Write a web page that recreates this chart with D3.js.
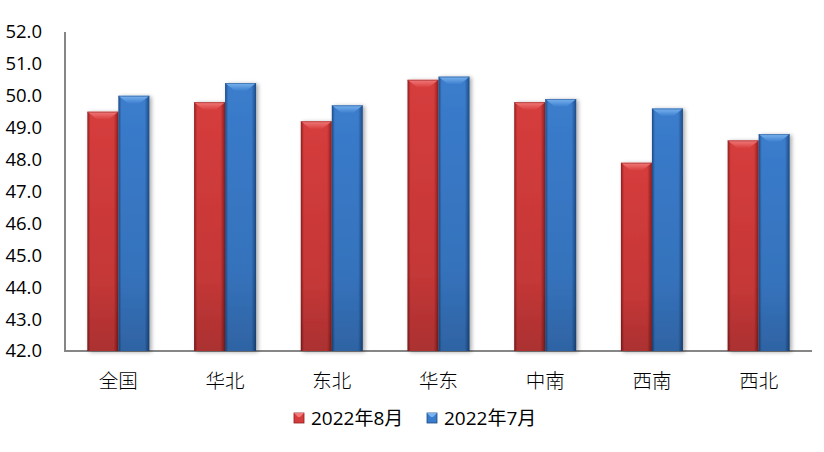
<!DOCTYPE html>
<html><head><meta charset="utf-8">
<script src="https://cdn.jsdelivr.net/npm/d3@7/dist/d3.min.js"></script>
<style>body{margin:0;background:#fff}svg{display:block}</style>
</head><body>
<script>
const categories = ["全国","华北","东北","华东","中南","西南","西北"];
const seriesNames = ["2022年8月","2022年7月"];
const aug = [49.5,49.8,49.2,50.5,49.8,47.9,48.6];
const jul = [50.0,50.4,49.7,50.6,49.9,49.6,48.8];
const yTicks = [42,43,44,45,46,47,48,49,50,51,52];

(function(){
const W=824,H=452;
const svg=d3.select("body").append("svg").attr("width",W).attr("height",H);
const pLeft=65,pRight=812,pTop=32,pBottom=351;
const x=d3.scaleBand().domain(categories).range([pLeft,pRight]);
const y=d3.scaleLinear().domain([42,52]).range([pBottom,pTop]);
const barW=31;

const defs=svg.append("defs");
const pal=[{main:"#d63c3c",light:"#f27a7a",dark:"#8e1e1e",id:"r"},{main:"#3a7ccc",light:"#7ab4f0",dark:"#1c4a85",id:"b"}];
pal.forEach(p=>{
  const gh=defs.append("linearGradient").attr("id","h"+p.id).attr("x1",0).attr("x2",1).attr("y1",0).attr("y2",0);
  gh.append("stop").attr("offset","0%").attr("stop-color",p.dark);
  gh.append("stop").attr("offset","10%").attr("stop-color",p.main);
  gh.append("stop").attr("offset","85%").attr("stop-color",p.main);
  gh.append("stop").attr("offset","100%").attr("stop-color",p.dark);
  const gv=defs.append("linearGradient").attr("id","v"+p.id).attr("x1",0).attr("x2",0).attr("y1",0).attr("y2",1);
  gv.append("stop").attr("offset","0%").attr("stop-color","#000").attr("stop-opacity",0);
  gv.append("stop").attr("offset","70%").attr("stop-color","#000").attr("stop-opacity",0.08);
  gv.append("stop").attr("offset","100%").attr("stop-color","#000").attr("stop-opacity",0.2);
  const gt=defs.append("linearGradient").attr("id","t"+p.id).attr("x1",0).attr("x2",0).attr("y1",0).attr("y2",1);
  gt.append("stop").attr("offset","0%").attr("stop-color",p.light);
  gt.append("stop").attr("offset","100%").attr("stop-color",p.main);
});
const sh=defs.append("filter").attr("id","shadow").attr("x","-20%").attr("y","-5%").attr("width","150%").attr("height","115%");
sh.append("feGaussianBlur").attr("in","SourceAlpha").attr("stdDeviation",2);
sh.append("feOffset").attr("dx",2).attr("dy",1).attr("result","ob");
sh.append("feComponentTransfer").append("feFuncA").attr("type","linear").attr("slope",0.35);
const mg=sh.append("feMerge");mg.append("feMergeNode");mg.append("feMergeNode").attr("in","SourceGraphic");

svg.append("line").attr("x1",pLeft).attr("x2",pLeft).attr("y1",pTop).attr("y2",pBottom).attr("stroke","#868686").attr("stroke-width",2);
svg.append("line").attr("x1",pLeft-1).attr("x2",pRight).attr("y1",pBottom).attr("y2",pBottom).attr("stroke","#868686").attr("stroke-width",2);

svg.append("g").selectAll("text").data(yTicks).join("text")
  .attr("x",42).attr("y",d=>y(d)).attr("dy","0.35em").attr("text-anchor","end")
  .attr("font-family","Open Sans, Liberation Sans, sans-serif").attr("font-size",18.5).attr("fill","#000")
  .text(d=>d.toFixed(1));

svg.append("g").selectAll("text").data(categories).join("text")
  .attr("x",d=>x(d)+x.bandwidth()/2).attr("y",381).attr("dy","0.35em").attr("text-anchor","middle")
  .attr("font-family","Noto Sans CJK SC, sans-serif").attr("font-size",19.5).attr("font-weight",300).attr("fill","#000")
  .text(d=>d);

function drawBar(g,x0,yTop,p){
  const h=pBottom-yTop;
  const gg=g.append("g").attr("filter","url(#shadow)");
  gg.append("rect").attr("x",x0).attr("y",yTop).attr("width",barW).attr("height",h).attr("fill",`url(#h${p.id})`);
  gg.append("rect").attr("x",x0).attr("y",yTop).attr("width",barW).attr("height",h).attr("fill",`url(#v${p.id})`);
  const b=Math.min(8,h/2), ins=10;
  gg.append("path").attr("d",`M${x0},${yTop}L${x0+barW},${yTop}L${x0+barW-ins},${yTop+b}L${x0+ins},${yTop+b}Z`).attr("fill",`url(#t${p.id})`);
  gg.append("line").attr("x1",x0).attr("x2",x0+barW).attr("y1",yTop+0.5).attr("y2",yTop+0.5).attr("stroke",p.dark).attr("stroke-opacity",0.5);
}
const series=[aug,jul];
const gBars=svg.append("g");
categories.forEach((c,i)=>{
  const cx=x(c)+x.bandwidth()/2;
  series.forEach((s,k)=>{
    drawBar(gBars,cx-barW+k*barW,y(s[i]),pal[k]);
  });
});

const leg=svg.append("g");
const legX=[294,427];
seriesNames.forEach((n,k)=>{
  const p=pal[k];
  const lx=legX[k];
  leg.append("rect").attr("x",lx).attr("y",413).attr("width",10).attr("height",10).attr("fill",p.main).attr("stroke",p.dark).attr("stroke-width",0.8);
  leg.append("path").attr("d",`M${lx},413L${lx+10},413L${lx+6},417L${lx+4},417Z`).attr("fill",p.light);
  leg.append("text").attr("x",lx+17).attr("y",418).attr("dy","0.35em")
    .attr("font-family","Open Sans, Liberation Sans, Noto Sans CJK SC, sans-serif").attr("font-size",19).attr("fill","#000").text(n);
});
})();
</script>
</body></html>
